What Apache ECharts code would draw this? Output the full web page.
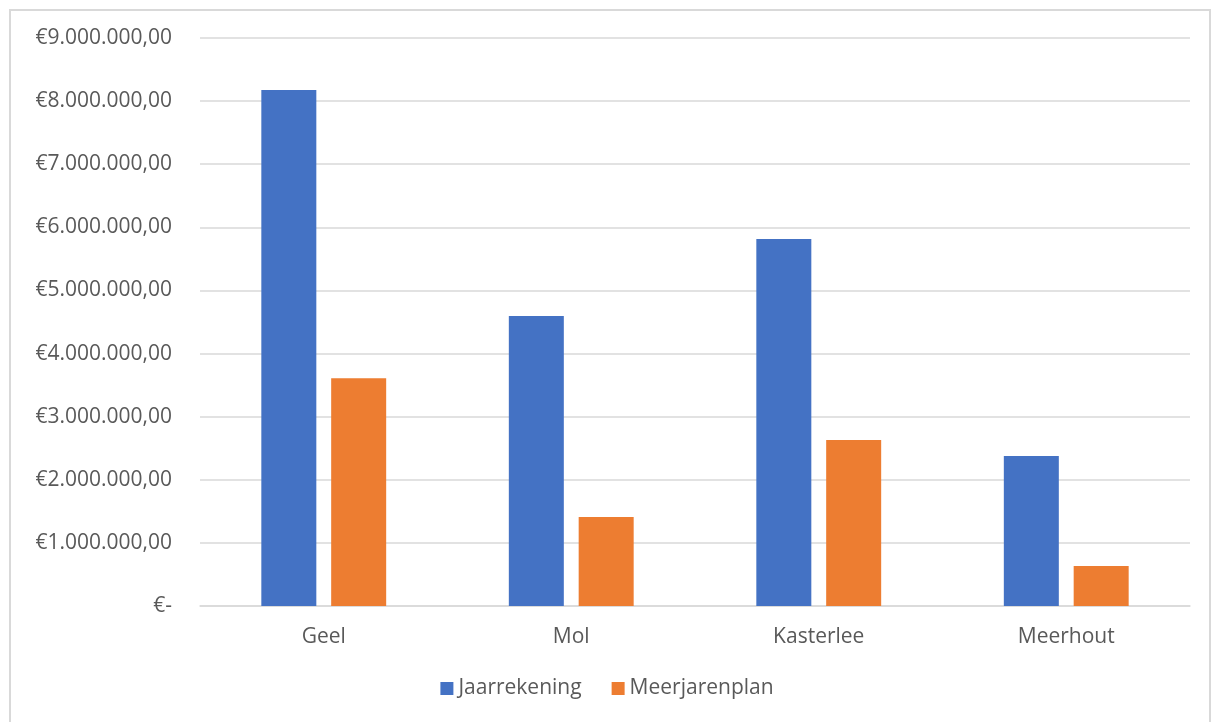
<!DOCTYPE html>
<html><head><meta charset="utf-8">
<script src="https://cdn.jsdelivr.net/npm/echarts@6/dist/echarts.min.js"></script>
<style>html,body{margin:0;padding:0;background:#fff}#c{width:1214px;height:722px}
#frame{position:absolute;left:9px;top:9px;width:1202px;height:720px;border:2px solid #d9d9d9;box-sizing:border-box;pointer-events:none}</style>
</head><body><div id="c"></div><div id="frame"></div>
<script>
const categories = ['Geel', 'Mol', 'Kasterlee', 'Meerhout'];
const jaarrekening = [8175000, 4595000, 5815000, 2377000];
const meerjarenplan = [3610000, 1410000, 2630000, 634000];
const seriesNames = ['Jaarrekening', 'Meerjarenplan'];

function fmt(v){
  if (v === 0) return '€-';
  const s = Math.round(v).toString().replace(/\B(?=(\d{3})+(?!\d))/g, '.');
  return '€' + s + ',00';
}
const chart = echarts.init(document.getElementById('c'));
const font = 'Open Sans';
chart.setOption({
  animation: false,
  grid: {left: 200, right: 24, top: 38, bottom: 116, containLabel: false},
  legend: {
    bottom: 18, left: 'center', itemWidth: 13, itemHeight: 13, itemGap: 30,
    icon: 'rect',
    textStyle: {fontFamily: font, fontSize: 21, color: '#595959'},
    data: seriesNames
  },
  xAxis: {
    type: 'category', data: categories,
    axisLine: {lineStyle: {color: '#d9d9d9', width: 1.5}},
    axisTick: {show: false},
    axisLabel: {fontFamily: font, fontSize: 21, color: '#595959', margin: 21}
  },
  yAxis: {
    type: 'value', min: 0, max: 9000000, interval: 1000000,
    axisLine: {show: false}, axisTick: {show: false},
    splitLine: {lineStyle: {color: '#d9d9d9', width: 1.5}},
    axisLabel: {fontFamily: font, fontSize: 21, color: '#595959', margin: 28, formatter: fmt}
  },
  series: [
    {name: seriesNames[0], type: 'bar', data: jaarrekening, barWidth: 55, barGap: '27%', itemStyle: {color: '#4472c4'}},
    {name: seriesNames[1], type: 'bar', data: meerjarenplan, barWidth: 55, itemStyle: {color: '#ed7d31'}}
  ]
});
</script></body></html>
